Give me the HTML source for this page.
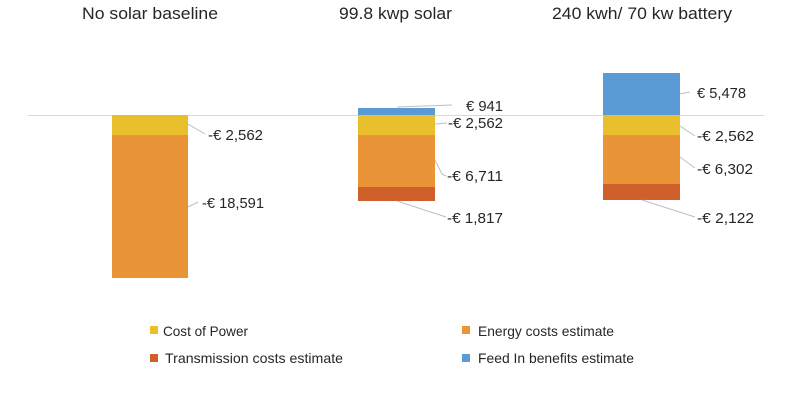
<!DOCTYPE html>
<html>
<head>
<meta charset="utf-8">
<style>
html,body{margin:0;padding:0;background:#fff;}
svg{display:block;}
text{font-family:"Liberation Sans",sans-serif;fill:#262626;}
</style>
</head>
<body>
<svg width="800" height="400" viewBox="0 0 800 400" xmlns="http://www.w3.org/2000/svg">
  <!-- titles -->
  <text x="82" y="19" font-size="17" textLength="136" lengthAdjust="spacingAndGlyphs" fill="#333">No solar baseline</text>
  <text x="339" y="19" font-size="17" textLength="113" lengthAdjust="spacingAndGlyphs" fill="#333">99.8 kwp solar</text>
  <text x="552" y="19" font-size="17" textLength="180" lengthAdjust="spacingAndGlyphs" fill="#333">240 kwh/ 70 kw battery</text>

  <!-- baseline -->
  <line x1="28" y1="115.5" x2="764" y2="115.5" stroke="#d9d9d9" stroke-width="1"/>

  <!-- bar 1 -->
  <rect x="112" y="115" width="76" height="20" fill="#EABF2E"/>
  <rect x="112" y="135" width="76" height="143" fill="#E99537"/>

  <!-- bar 2 -->
  <rect x="358" y="108" width="77" height="7" fill="#5B9BD5"/>
  <rect x="358" y="115" width="77" height="20" fill="#EABF2E"/>
  <rect x="358" y="135" width="77" height="52" fill="#E99537"/>
  <rect x="358" y="187" width="77" height="14" fill="#CF5F2B"/>

  <!-- bar 3 -->
  <rect x="603" y="73" width="77" height="42" fill="#5B9BD5"/>
  <rect x="603" y="115" width="77" height="20" fill="#EABF2E"/>
  <rect x="603" y="135" width="77" height="49" fill="#E99537"/>
  <rect x="603" y="184" width="77" height="16" fill="#CF5F2B"/>

  <!-- leader lines -->
  <g stroke="#bfbfbf" stroke-width="1" fill="none">
    <polyline points="188,124 205,134"/>
    <polyline points="188,207 198,202"/>
    <polyline points="397,107 452,105"/>
    <polyline points="435,124 447,123"/>
    <polyline points="435,160 442,174 446,176"/>
    <polyline points="397,201 446,217"/>
    <polyline points="680,94 690,92"/>
    <polyline points="680,126 695,136"/>
    <polyline points="680,157 695,168"/>
    <polyline points="642,200 695,217"/>
  </g>

  <!-- data labels -->
  <g font-size="14.5">
    <text x="208" y="140" textLength="55" lengthAdjust="spacingAndGlyphs">-€ 2,562</text>
    <text x="202" y="208" textLength="62" lengthAdjust="spacingAndGlyphs">-€ 18,591</text>

    <text x="466" y="111" textLength="37" lengthAdjust="spacingAndGlyphs">€ 941</text>
    <text x="448" y="128" textLength="55" lengthAdjust="spacingAndGlyphs">-€ 2,562</text>
    <text x="447" y="181" textLength="56" lengthAdjust="spacingAndGlyphs">-€ 6,711</text>
    <text x="447" y="223" textLength="56" lengthAdjust="spacingAndGlyphs">-€ 1,817</text>

    <text x="697" y="98" textLength="49" lengthAdjust="spacingAndGlyphs">€ 5,478</text>
    <text x="697" y="141" textLength="57" lengthAdjust="spacingAndGlyphs">-€ 2,562</text>
    <text x="697" y="174" textLength="56" lengthAdjust="spacingAndGlyphs">-€ 6,302</text>
    <text x="697" y="223" textLength="57" lengthAdjust="spacingAndGlyphs">-€ 2,122</text>
  </g>

  <!-- legend -->
  <rect x="150" y="326" width="8" height="8" fill="#EABF2E"/>
  <text x="163" y="336" font-size="14" textLength="85" lengthAdjust="spacingAndGlyphs">Cost of Power</text>
  <rect x="462" y="326" width="8" height="8" fill="#E99537"/>
  <text x="478" y="336" font-size="14" textLength="136" lengthAdjust="spacingAndGlyphs">Energy costs estimate</text>
  <rect x="150" y="354" width="8" height="8" fill="#CF5F2B"/>
  <text x="165" y="363" font-size="14" textLength="178" lengthAdjust="spacingAndGlyphs">Transmission costs estimate</text>
  <rect x="462" y="354" width="8" height="8" fill="#5B9BD5"/>
  <text x="478" y="363" font-size="14" textLength="156" lengthAdjust="spacingAndGlyphs">Feed In benefits estimate</text>
</svg>
</body>
</html>
